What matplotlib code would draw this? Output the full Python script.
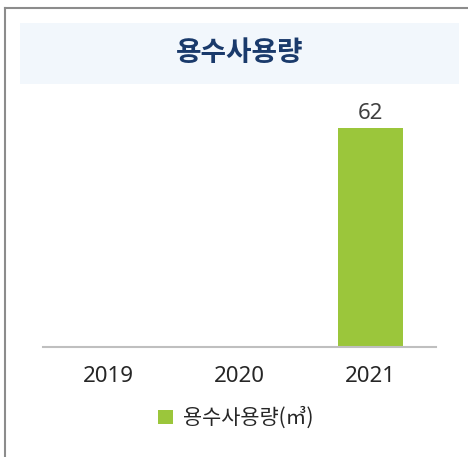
import matplotlib
matplotlib.use("Agg")
import matplotlib.pyplot as plt
from matplotlib.patches import Rectangle
from matplotlib.lines import Line2D

plt.rcParams['font.family'] = ['Noto Sans CJK KR', 'DejaVu Sans']
num_font = ['Noto Sans', 'DejaVu Sans']

years = ['2019', '2020', '2021']
usage = [None, None, 62]
title = '용수사용량'
series_name = '용수사용량(㎥)'

W, H = 468, 457
fig = plt.figure(figsize=(W / 100, H / 100), dpi=100)

# outer frame (top + left only)
fig.add_artist(Line2D([5 / W, 1.0], [1 - 8 / H, 1 - 8 / H], color='#8c8c8c', lw=1.5))
fig.add_artist(Line2D([5 / W, 5 / W], [0, 1 - 8 / H], color='#8c8c8c', lw=1.5))

# title box
fig.add_artist(Rectangle((20 / W, 1 - 84 / H), 439 / W, 61 / H,
                         facecolor='#f2f7fc', edgecolor='none'))
fig.text(240 / W, 1 - 53 / H, title, ha='center', va='center',
         fontsize=20, fontweight='bold', color='#1a3a6b')

ax = fig.add_axes([43 / W, 1 - 347 / H, 393 / W, 247 / H])
xs = list(range(len(years)))
vals = [v if v is not None else 0 for v in usage]
bars = ax.bar(xs, vals, width=0.5, color='#9bc63b', label=series_name)
for x, v in zip(xs, usage):
    if v is not None:
        ax.text(x, v + 1.3, str(v), ha='center', va='bottom', fontsize=16,
                color='#404040', family=num_font)

ax.set_xlim(-0.5, 2.5)
ax.set_ylim(0, 70)
ax.set_xticks(xs)
ax.set_xticklabels(years, fontsize=16, color='#262626', family=num_font)
ax.tick_params(axis='x', length=0, pad=14)
ax.set_yticks([])
for s in ['top', 'right', 'left']:
    ax.spines[s].set_visible(False)
ax.spines['bottom'].set_color('#bfbfbf')
ax.spines['bottom'].set_linewidth(1.5)

fig.legend(handles=[bars], labels=[series_name], loc='center',
           bbox_to_anchor=(236 / W, 1 - 418 / H), frameon=False,
           fontsize=15, handlelength=0.7, handleheight=0.7, handletextpad=0.5,
           labelcolor='#262626')

fig.savefig('out.png', dpi=100)
